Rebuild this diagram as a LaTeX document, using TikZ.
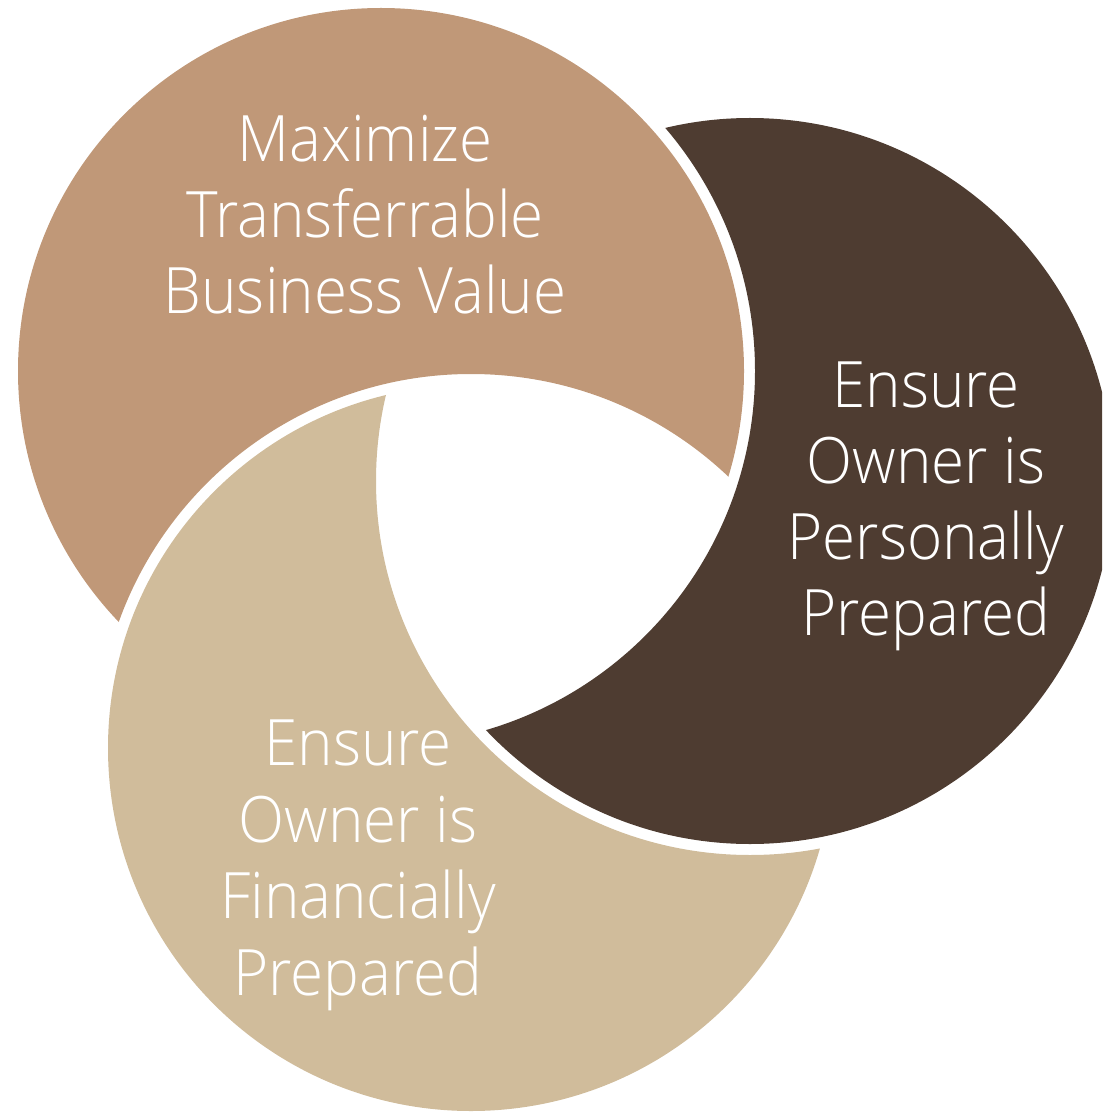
\documentclass[tikz,border=0pt]{standalone}
\usepackage{fontspec}
\IfFontExistsTF{Open Sans Light}
  {\setmainfont{Open Sans Light}[FakeStretch=0.94]}
  {\setmainfont{Open Sans}[FakeStretch=0.88]}
\definecolor{valuetan}{HTML}{C09878}
\definecolor{personalbrown}{HTML}{4E3C31}
\definecolor{financialsand}{HTML}{D0BC9B}
\begin{document}
\begin{tikzpicture}[x=0.5pt,y=-0.5pt,
  petaltext/.style={text=white,inner sep=0pt,anchor=base,
    font=\fontsize{32}{38}\selectfont}]
\useasboundingbox (0,0) rectangle (1102,1112);
\clip (0,0) rectangle (1102,1112);

% ring of three equal circles; each petal is its circle minus
% a slightly larger copy of the previous circle
\def\petalr{181.5pt}
\def\cutr{187pt}
\coordinate (ca) at (381,371);
\coordinate (cb) at (750,481);
\coordinate (cc) at (471,748);

% top-left petal: circle a without circle c
\begin{scope}[even odd rule]
  \clip (-10,-10) rectangle (1112,1122) (cc) circle[radius=\cutr];
  \fill[valuetan] (ca) circle[radius=\petalr];
\end{scope}

% right petal: circle b without circle a
\begin{scope}[even odd rule]
  \clip (-10,-10) rectangle (1112,1122) (ca) circle[radius=\cutr];
  \fill[personalbrown] (cb) circle[radius=\petalr];
\end{scope}

% bottom petal: circle c without circle b
\begin{scope}[even odd rule]
  \clip (-10,-10) rectangle (1112,1122) (cb) circle[radius=\cutr];
  \fill[financialsand] (cc) circle[radius=\petalr];
\end{scope}

% labels
\node[petaltext] (v1) at (365,162) {Maximize};
\node[petaltext] (v2) at (365,238) {Transferrable};
\node[petaltext] (v3) at (365,314) {Business Value};

\node[petaltext] (p1) at (926,407) {Ensure};
\node[petaltext] (p2) at (926,483) {Owner is};
\node[petaltext] (p3) at (926,559) {Personally};
\node[petaltext] (p4) at (926,635) {Prepared};

\node[petaltext] (f1) at (358,765) {Ensure};
\node[petaltext] (f2) at (358,842) {Owner is};
\node[petaltext] (f3) at (358,918) {Financially};
\node[petaltext] (f4) at (358,995) {Prepared};
\end{tikzpicture}
\end{document}
